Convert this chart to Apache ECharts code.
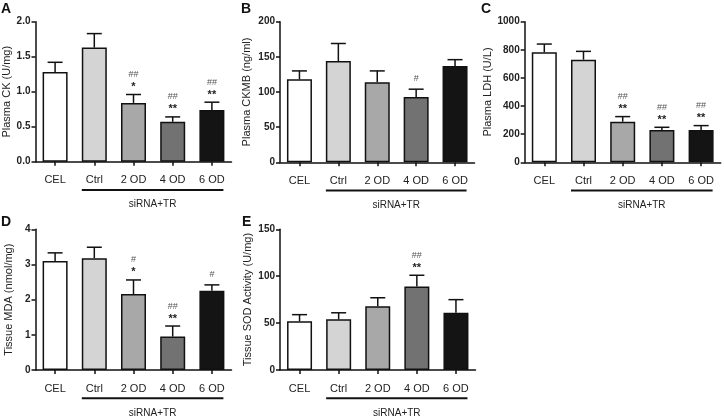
<!DOCTYPE html>
<html>
<head>
<meta charset="utf-8">
<script src="https://cdn.jsdelivr.net/npm/echarts@6/dist/echarts.min.js"></script>
<style>
html,body{margin:0;padding:0;background:#fff;}
#c{width:724px;height:417px;}
</style>
</head>
<body>
<div id="c"></div>
<script>
const categories = ['CEL', 'Ctrl', '2 OD', '4 OD', '6 OD'];
const groupLabel = 'siRNA+TR';

const ckMean = [1.28, 1.63, 0.84, 0.57, 0.74];
const ckErr = [0.14, 0.20, 0.12, 0.07, 0.11];
const ckHash = ['', '', '##', '##', '##'];
const ckStar = ['', '', '*', '**', '**'];

const ckmbMean = [118, 144, 114, 93, 137];
const ckmbErr = [12, 25, 16, 11, 9];
const ckmbHash = ['', '', '', '#', ''];
const ckmbStar = ['', '', '', '', ''];

const ldhMean = [782, 730, 289, 230, 230];
const ldhErr = [59, 59, 36, 19, 31];
const ldhHash = ['', '', '##', '##', '##'];
const ldhStar = ['', '', '**', '**', '**'];

const mdaMean = [3.10, 3.18, 2.16, 0.95, 2.25];
const mdaErr = [0.23, 0.31, 0.40, 0.30, 0.17];
const mdaHash = ['', '', '#', '##', '#'];
const mdaStar = ['', '', '*', '**', ''];

const sodMean = [52, 54, 68, 89, 61];
const sodErr = [7, 7, 9, 12, 14];
const sodHash = ['', '', '', '##', ''];
const sodStar = ['', '', '', '**', ''];

const yTicks = {
  A: [0, 2, 0.5], B: [0, 200, 50], C: [0, 1000, 200], D: [0, 4, 1], E: [0, 150, 50]
};

const barColors = ['#ffffff', '#d4d4d4', '#a8a8a8', '#727272', '#141414'];
const FONT = '"Liberation Sans", Arial, sans-serif';

const panels = [
  {letter: 'A', name: 'Plasma CK (U/mg)', mean: ckMean, err: ckErr, hash: ckHash, star: ckStar, dec: 1, nameGap: 22,
   grid: {left: 35.5, top: 21.7, width: 196, height: 140}, lx: 1, ly: 2},
  {letter: 'B', name: 'Plasma CKMB (ng/ml)', mean: ckmbMean, err: ckmbErr, hash: ckmbHash, star: ckmbStar, dec: 0, nameGap: 27.5,
   grid: {left: 280, top: 21.7, width: 194.5, height: 140.6}, lx: 241, ly: 2},
  {letter: 'C', name: 'Plasma LDH (U/L)', mean: ldhMean, err: ldhErr, hash: ldhHash, star: ldhStar, dec: 0, nameGap: 29,
   grid: {left: 524.7, top: 21.7, width: 196, height: 140.6}, lx: 481, ly: 2},
  {letter: 'D', name: 'Tissue MDA (nmol/mg)', mean: mdaMean, err: mdaErr, hash: mdaHash, star: mdaStar, dec: 0, nameGap: 21.5,
   grid: {left: 35.5, top: 229.3, width: 196, height: 140.7}, lx: 1, ly: 215},
  {letter: 'E', name: 'Tissue SOD Activity (U/mg)', mean: sodMean, err: sodErr, hash: sodHash, star: sodStar, dec: 0, nameGap: 26.5,
   grid: {left: 280, top: 229.3, width: 195.5, height: 140.7}, lx: 242, ly: 215}
];

const chart = echarts.init(document.getElementById('c'), null, {renderer: 'canvas'});

const grid = [], xAxis = [], yAxis = [], series = [];
panels.forEach((p, g) => {
  grid.push(Object.assign({containLabel: false}, p.grid));
  xAxis.push({
    type: 'category', gridIndex: g, data: categories,
    axisLine: {show: true, lineStyle: {color: '#111', width: 1.5}},
    axisTick: {show: true, alignWithLabel: true, length: 4, lineStyle: {color: '#111', width: 1.5}},
    axisLabel: {fontFamily: FONT, fontSize: 11, color: '#222', margin: 13, interval: 0},
    splitLine: {show: false}
  });
  const t = yTicks[p.letter];
  yAxis.push({
    type: 'value', gridIndex: g, min: t[0], max: t[1], interval: t[2],
    name: p.name, nameLocation: 'middle', nameRotate: 90, nameGap: p.nameGap,
    nameTextStyle: {fontFamily: FONT, fontSize: 11, color: '#222'},
    axisLine: {show: true, lineStyle: {color: '#111', width: 1.5}},
    axisTick: {show: true, length: 4, lineStyle: {color: '#111', width: 1.5}},
    axisLabel: {fontFamily: FONT, fontSize: 10, fontWeight: 'bold', color: '#222', margin: 5,
      formatter: v => v.toFixed(p.dec)},
    splitLine: {show: false}
  });
  series.push({
    type: 'bar', xAxisIndex: g, yAxisIndex: g, barWidth: 25,
    data: p.mean.map((v, i) => ({value: v, itemStyle: {color: barColors[i]}})),
    itemStyle: {borderColor: '#111', borderWidth: 1.5},
    emphasis: {disabled: true}, animation: false, z: 2
  });
  series.push({
    type: 'custom', xAxisIndex: g, yAxisIndex: g, animation: false, z: 3,
    data: p.mean.map((v, i) => [i, v, v + p.err[i]]),
    renderItem: function (params, api) {
      const i = params.dataIndex;
      const base = api.coord([api.value(0), api.value(1)]);
      const top = api.coord([api.value(0), api.value(2)]);
      const children = [
        {type: 'line', shape: {x1: base[0], y1: base[1], x2: top[0], y2: top[1]},
         style: {stroke: '#111', lineWidth: 1.5}},
        {type: 'line', shape: {x1: top[0] - 7.5, y1: top[1], x2: top[0] + 7.5, y2: top[1]},
         style: {stroke: '#111', lineWidth: 1.5}}
      ];
      const s = p.star[i], h = p.hash[i];
      if (s) {
        children.push({type: 'text', style: {text: s, x: top[0], y: top[1] - 7.5,
          align: 'center', verticalAlign: 'middle', font: 'bold 11px ' + FONT, fill: '#222'}});
      }
      if (h) {
        children.push({type: 'text', style: {text: h, x: top[0], y: top[1] - (s ? 20 : 10.5),
          align: 'center', verticalAlign: 'middle', font: '9px ' + FONT, fill: '#555'}});
      }
      return {type: 'group', children: children};
    }
  });
});

chart.setOption({animation: false, backgroundColor: '#fff', grid, xAxis, yAxis, series});

const graphic = [];
panels.forEach((p, g) => {
  graphic.push({type: 'text', left: p.lx, top: p.ly,
    style: {text: p.letter, font: 'bold 14px ' + FONT, fill: '#111'}});
  const c1 = chart.convertToPixel({xAxisIndex: g, yAxisIndex: g}, [categories[1], 0]);
  const c4 = chart.convertToPixel({xAxisIndex: g, yAxisIndex: g}, [categories[4], 0]);
  const ly = c1[1] + 28.3;
  graphic.push({type: 'line', shape: {x1: c1[0] - 12.5, y1: ly, x2: c4[0] + 11.5, y2: ly},
    style: {stroke: '#111', lineWidth: 2}});
  graphic.push({type: 'text', x: (c1[0] - 12.5 + c4[0] + 11.5) / 2, y: ly + 14.5,
    style: {text: groupLabel, font: '10px ' + FONT, fill: '#222', align: 'center', verticalAlign: 'middle'}});
});
chart.setOption({graphic});
</script>
</body>
</html>
